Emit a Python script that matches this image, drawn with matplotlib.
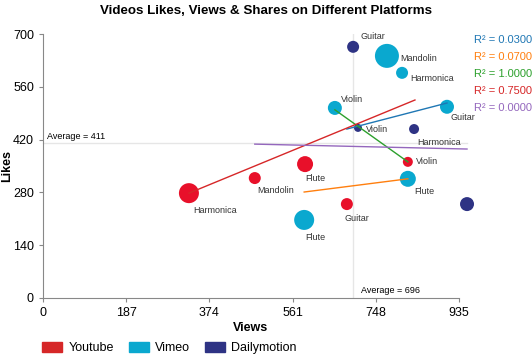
import numpy as np
import matplotlib.pyplot as plt

plt.rcParams['font.family'] = ['Liberation Sans', 'DejaVu Sans']

# data: (views, likes, shares, label)
yt_views = [328, 476, 589, 683, 820]
yt_likes = [278, 318, 355, 249, 361]
yt_shares = [100, 36, 64, 36, 25]
yt_names = ['Harmonica', 'Mandolin', 'Flute', 'Guitar', 'Violin']

vm_views = [587, 820, 656, 908, 773, 807]
vm_likes = [207, 316, 504, 507, 642, 597]
vm_shares = [100, 64, 49, 49, 144, 36]
vm_names = ['Flute', 'Flute', 'Violin', 'Guitar', 'Mandolin', 'Harmonica']

dm_views = [697, 708, 834, 953]
dm_likes = [666, 451, 448, 249]
dm_shares = [36, 16, 25, 49]
dm_names = ['Guitar', 'Violin', 'Harmonica', '']

# trend segments (x0, x1, y0, y1) and their R² labels
trend_x = [(683, 908), (587, 820), (656, 820), (328, 836), (476, 953)]
trend_y = [(448, 517), (281, 316), (499, 361), (278, 525), (408, 395)]
r2_vals = [0.03, 0.07, 1.0, 0.75, 0.0]
trend_colors = ['#1f77b4', '#ff7f0e', '#2ca02c', '#d62728', '#9467bd']

avg_views = 696
avg_likes = 411

x_ticks = [0, 187, 374, 561, 748, 935]
y_ticks = [0, 140, 280, 420, 560, 700]

colors = {'Youtube': '#E8102A', 'Vimeo': '#0AA8CF', 'Dailymotion': '#2E3384'}

# label offsets in pixels (dx right, dy down), ha left
yt_off = [(4, 17), (2, 12), (0, 14), (-2, 14), (8, 0)]
vm_off = [(1, 18), (6, 13), (6, -8), (4, 11), (13, 3), (8, 6)]
dm_off = [(7, -10), (8, 2), (3, 13), (0, 0)]

fig = plt.figure(figsize=(5.32, 3.55), dpi=100)
ax = fig.add_axes([0.0808, 0.1606, 0.782, 0.7436])
ax.set_xlim(0, 935)
ax.set_ylim(0, 700)

# average lines
ax.axhline(avg_likes, xmax=1.02, color='#e6e6e6', lw=1, zorder=0, clip_on=False)
ax.axvline(avg_views, color='#e6e6e6', lw=1, zorder=0)
ax.text(8, avg_likes + 4, 'Average = %d' % avg_likes, fontsize=6.5, va='bottom')
ax.annotate('Average = %d' % avg_views, (avg_views, 0), xytext=(6, 2),
            textcoords='offset points', fontsize=6.5, va='bottom')


def px2pt(v):
    return v * 0.72


for views, likes, shares, names, offs, key in [
        (yt_views, yt_likes, yt_shares, yt_names, yt_off, 'Youtube'),
        (vm_views, vm_likes, vm_shares, vm_names, vm_off, 'Vimeo'),
        (dm_views, dm_likes, dm_shares, dm_names, dm_off, 'Dailymotion')]:
    sizes = (np.sqrt(np.array(shares)) * 1.44) ** 2
    ax.scatter(views, likes, s=sizes, color=colors[key], zorder=3,
               clip_on=False, linewidths=0)
    for x, y, n, (dx, dy) in zip(views, likes, names, offs):
        if n:
            ax.annotate(n, (x, y), xytext=(px2pt(dx), -px2pt(dy)),
                        textcoords='offset points', fontsize=6.5,
                        color='#333333', ha='left', va='center', zorder=5)

for tx, ty, c in zip(trend_x, trend_y, trend_colors):
    ax.plot(tx, ty, color=c, lw=1, zorder=4, clip_on=False)

for i, (r2, c) in enumerate(zip(r2_vals, trend_colors)):
    fig.text(0.891, 1 - (40 + 17 * i) / 355, 'R² = %.4f' % r2, color=c,
             fontsize=8, va='center')

for s in ['top', 'right']:
    ax.spines[s].set_visible(False)
for s in ['left', 'bottom']:
    ax.spines[s].set_color('#888888')
ax.set_xticks(x_ticks)
ax.set_yticks(y_ticks)
ax.tick_params(colors='#888888', labelcolor='black', labelsize=9, length=3)
ax.set_xlabel('Views', fontweight='bold', fontsize=9, labelpad=2)
ax.set_ylabel('Likes', fontweight='bold', fontsize=9, labelpad=0)
fig.text(0.5, 0.985, 'Videos Likes, Views & Shares on Different Platforms',
         ha='center', va='top', fontweight='bold', fontsize=9.6)

handles = [plt.Rectangle((0, 0), 1, 1, color=colors[k]) for k in colors]
handles[0].set_color('#D62728')
fig.legend(handles, list(colors), loc='lower left', bbox_to_anchor=(0.058, -0.03),
           ncol=3, frameon=False, fontsize=9, handlelength=1.6, handleheight=0.9,
           columnspacing=1.2, handletextpad=0.5)

fig.savefig('out.png', dpi=100)
